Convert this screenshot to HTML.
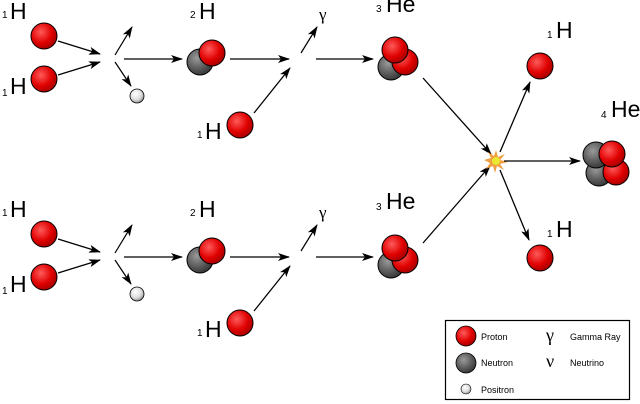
<!DOCTYPE html>
<html><head><style>html,body{margin:0;padding:0;background:#fff;width:640px;height:404px;overflow:hidden}</style></head>
<body>
<svg width="640" height="404" viewBox="0 0 640 404" xmlns="http://www.w3.org/2000/svg" font-family="Liberation Sans, sans-serif">
<defs>
<radialGradient id="pr" cx="0.38" cy="0.35" r="0.7"><stop offset="0" stop-color="#ff5a5a"/><stop offset="0.6" stop-color="#e00000"/><stop offset="1" stop-color="#a00000"/></radialGradient>
<radialGradient id="ne" cx="0.38" cy="0.35" r="0.7"><stop offset="0" stop-color="#9a9a9a"/><stop offset="0.6" stop-color="#5a5a5a"/><stop offset="1" stop-color="#333"/></radialGradient>
<radialGradient id="po" cx="0.4" cy="0.35" r="0.7"><stop offset="0" stop-color="#fff"/><stop offset="0.6" stop-color="#ddd"/><stop offset="1" stop-color="#888"/></radialGradient>
<marker id="a" markerWidth="12" markerHeight="8" refX="11" refY="4" orient="auto" markerUnits="userSpaceOnUse"><path d="M0,0 L12,4 L0,8 L3,4 z" fill="#000"/></marker>
<g id="row">
<text x="2" y="18" font-size="10">1</text><text x="10" y="19" font-size="23">H</text>
<text x="2" y="96" font-size="10">1</text><text x="10" y="94" font-size="23">H</text>
<circle cx="44" cy="36" r="13" fill="url(#pr)" stroke="#000"/>
<circle cx="44" cy="79" r="13" fill="url(#pr)" stroke="#000"/>
<line x1="58" y1="41" x2="100" y2="54" stroke="#000" stroke-width="1.3" marker-end="url(#a)"/>
<line x1="58" y1="75" x2="100" y2="62" stroke="#000" stroke-width="1.3" marker-end="url(#a)"/>
<line x1="115" y1="55" x2="132" y2="27" stroke="#000" stroke-width="1.2" marker-end="url(#a)"/>
<line x1="115" y1="62" x2="131" y2="86" stroke="#000" stroke-width="1.2" marker-end="url(#a)"/>
<circle cx="137" cy="96" r="7" fill="url(#po)" stroke="#000" stroke-width="0.8"/>
<line x1="124" y1="59" x2="182" y2="59" stroke="#000" stroke-width="1.3" marker-end="url(#a)"/>
<text x="190" y="18" font-size="10">2</text><text x="199" y="19" font-size="23">H</text>
<circle cx="200" cy="62" r="13" fill="url(#ne)" stroke="#000"/>
<circle cx="212" cy="53" r="13" fill="url(#pr)" stroke="#000"/>
<line x1="230" y1="59" x2="289" y2="59" stroke="#000" stroke-width="1.3" marker-end="url(#a)"/>
<line x1="301" y1="53" x2="317" y2="27" stroke="#000" stroke-width="1.2" marker-end="url(#a)"/>
<text x="319" y="20" font-size="17" font-family="Liberation Serif, serif">γ</text>
<circle cx="240" cy="125" r="13" fill="url(#pr)" stroke="#000"/>
<text x="197" y="138" font-size="10">1</text><text x="205" y="139" font-size="23">H</text>
<line x1="254" y1="113" x2="290" y2="68" stroke="#000" stroke-width="1.3" marker-end="url(#a)"/>
<line x1="316" y1="59" x2="373" y2="59" stroke="#000" stroke-width="1.3" marker-end="url(#a)"/>
<circle cx="391" cy="67" r="13" fill="url(#ne)" stroke="#000"/>
<circle cx="405" cy="62" r="13" fill="url(#pr)" stroke="#000"/>
<circle cx="395" cy="50" r="13" fill="url(#pr)" stroke="#000"/>
</g>
</defs>
<use href="#row"/>
<use href="#row" y="198"/>
<text x="376" y="12" font-size="10">3</text><text x="386" y="12" font-size="23">He</text>
<text x="376" y="210" font-size="10">3</text><text x="386" y="209" font-size="23">He</text>
<line x1="423" y1="78" x2="491" y2="154" stroke="#000" stroke-width="1.3" marker-end="url(#a)"/>
<line x1="423" y1="243" x2="490" y2="166" stroke="#000" stroke-width="1.3" marker-end="url(#a)"/>
<polygon points="496,150 498,157 505,154 500,160 508,162 500,164 504,170 497,166 495,173 493,166 486,169 490,163 484,160 491,158 488,152 494,156" fill="#f0a040"/>
<circle cx="496" cy="161" r="4" fill="#e8e830"/>
<line x1="500" y1="152" x2="530" y2="82" stroke="#000" stroke-width="1.3" marker-end="url(#a)"/>
<line x1="500" y1="170" x2="529" y2="240" stroke="#000" stroke-width="1.3" marker-end="url(#a)"/>
<line x1="504" y1="161" x2="580" y2="161" stroke="#000" stroke-width="1.3" marker-end="url(#a)"/>
<circle cx="540" cy="66" r="13" fill="url(#pr)" stroke="#000"/>
<circle cx="540" cy="258" r="13" fill="url(#pr)" stroke="#000"/>
<text x="547" y="38" font-size="10">1</text><text x="556" y="38" font-size="23">H</text>
<text x="547" y="237" font-size="10">1</text><text x="556" y="237" font-size="23">H</text>
<text x="601" y="118" font-size="10">4</text><text x="611" y="117" font-size="23">He</text>
<circle cx="599" cy="173" r="13" fill="url(#ne)" stroke="#000"/>
<circle cx="596" cy="155" r="13" fill="url(#ne)" stroke="#000"/>
<circle cx="616" cy="172" r="13" fill="url(#pr)" stroke="#000"/>
<circle cx="612" cy="154" r="13" fill="url(#pr)" stroke="#000"/>
<rect x="445.5" y="320.5" width="184" height="79" fill="#fff" stroke="#000" stroke-width="1.2"/>
<circle cx="466" cy="336" r="10" fill="url(#pr)" stroke="#000" stroke-width="0.8"/>
<circle cx="466" cy="363" r="10" fill="url(#ne)" stroke="#000" stroke-width="0.8"/>
<circle cx="466" cy="389" r="5" fill="url(#po)" stroke="#000" stroke-width="0.6"/>
<text x="481" y="340" font-size="9">Proton</text>
<text x="481" y="366" font-size="9">Neutron</text>
<text x="481" y="393" font-size="9">Positron</text>
<text x="546" y="341" font-size="18" font-family="Liberation Serif, serif">γ</text>
<text x="546" y="367" font-size="18" font-family="Liberation Serif, serif">ν</text>
<text x="570" y="340" font-size="9">Gamma Ray</text>
<text x="570" y="366" font-size="9">Neutrino</text>
</svg>
</body></html>
